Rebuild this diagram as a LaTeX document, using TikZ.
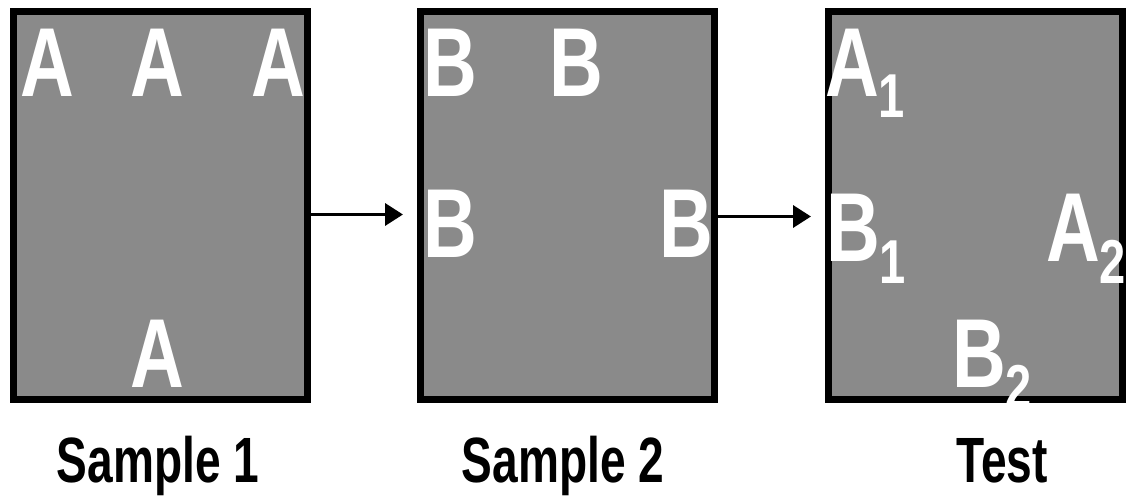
\documentclass[tikz,border=0pt]{standalone}
\usepackage{fontspec}
\newfontfamily\narrowsans{Liberation Sans}[FakeStretch=0.72]
\newfontfamily\lettersans{Liberation Sans}[FakeStretch=0.76]
\usetikzlibrary{arrows.meta}
\definecolor{panelgray}{RGB}{138,138,138}
\tikzset{
  panel/.style={draw=black, line width=7pt, fill=panelgray,
    minimum width=294pt, minimum height=387pt, inner sep=0pt},
  letter/.style={text=white, inner sep=0pt, anchor=base,
    font=\lettersans\bfseries\fontsize{98}{98}\selectfont},
  caption/.style={inner sep=0pt, anchor=base,
    font=\narrowsans\bfseries\fontsize{64}{64}\selectfont},
  link/.style={-{Triangle[length=18pt,width=22pt]}, line width=3.5pt,
    shorten >=14pt},
}
% subindice bajo la linea base
\newcommand\lowsub[1]{\raisebox{-21pt}{\fontsize{62}{62}\selectfont #1}}
\begin{document}
\begin{tikzpicture}[x=1pt,y=-1pt]
  \useasboundingbox (0,0) rectangle (1128,497);
  %——————————————————————————————————————————————
  % Cajas grises
  %——————————————————————————————————————————————
  \node[panel] (s1) at (160,205.5)   {};
  \node[panel] (s2) at (567.5,205.5) {};
  \node[panel] (t)  at (975.5,205.5) {};

  %——————————————————————————————————————————————
  % Muestra 1: letras A
  %——————————————————————————————————————————————
  \node[letter] (a1) at (47.5,97) {A};
  \node[letter] (a2) at (157,97)  {A};
  \node[letter] (a3) at (278,97)  {A};
  \node[letter] (a4) at (157,387) {A};

  %——————————————————————————————————————————————
  % Muestra 2: letras B
  %——————————————————————————————————————————————
  \node[letter] (b1) at (450,97)  {B};
  \node[letter] (b2) at (576,97)  {B};
  \node[letter] (b3) at (450,258) {B};
  \node[letter] (b4) at (686,258) {B};

  %——————————————————————————————————————————————
  % Prueba: letras con subindice
  %——————————————————————————————————————————————
  \node[letter, anchor=base west] (ta1) at (825,97)  {A\lowsub{1}};
  \node[letter, anchor=base west] (tb1) at (826,262) {B\lowsub{1}};
  \node[letter, anchor=base west] (ta2) at (1046,262) {A\lowsub{2}};
  \node[letter, anchor=base west] (tb2) at (952,387) {B\lowsub{2}};

  %——————————————————————————————————————————————
  % Flechas entre cajas
  %——————————————————————————————————————————————
  \draw[link] ([yshift=-9pt]s1.east) -- ([yshift=-9pt]s2.west);
  \draw[link] ([yshift=-11pt]s2.east) -- ([yshift=-11pt]t.west);

  %——————————————————————————————————————————————
  % Rotulos
  %——————————————————————————————————————————————
  \node[caption] (c1) at (158,482)  {Sample 1};
  \node[caption] (c2) at (563,482)  {Sample 2};
  \node[caption] (ct) at (1002,482) {Test};
\end{tikzpicture}
\end{document}
